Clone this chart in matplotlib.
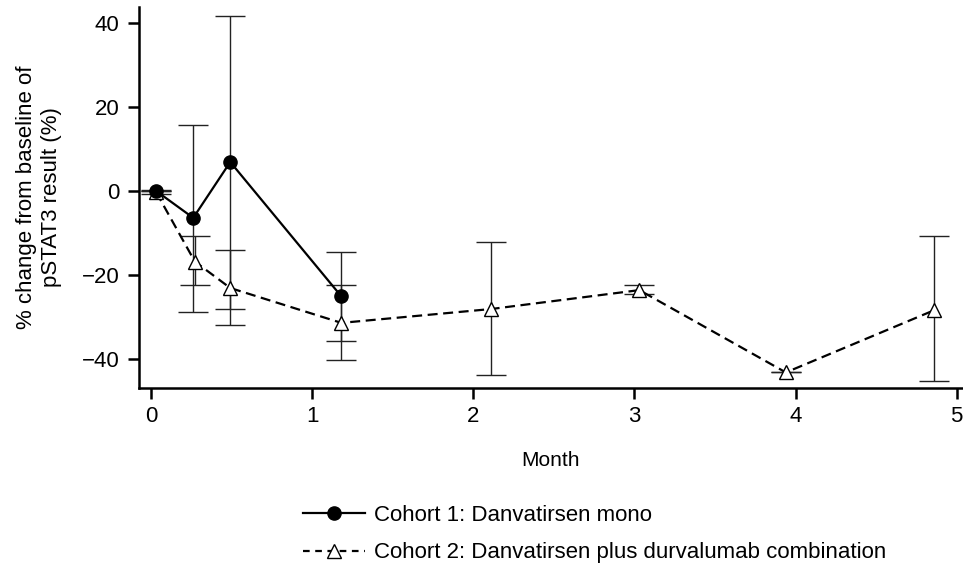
import matplotlib
matplotlib.use("Agg")
from matplotlib import pyplot as plt
from matplotlib.lines import Line2D
import numpy as np

# cohort 1: danvatirsen mono
c1_month = [0.03, 0.26, 0.49, 1.18]
c1_mean = [0.0, -6.4, 6.9, -25.1]
c1_low = [0.0, -28.9, -28.1, -35.8]
c1_high = [0.0, 15.8, 41.7, -14.6]

# cohort 2: danvatirsen + durvalumab
c2_month = [0.03, 0.27, 0.49, 1.18, 2.11, 3.03, 3.94, 4.86]
c2_mean = [-0.3, -16.8, -23.1, -31.4, -28.1, -23.6, -43.2, -28.4]
c2_low = [-0.8, -22.3, -31.8, -40.2, -43.7, -24.5, -43.2, -45.3]
c2_high = [0.3, -10.6, -14.0, -22.3, -12.1, -22.3, -43.2, -10.8]

labels = ["Cohort 1: Danvatirsen mono",
          "Cohort 2: Danvatirsen plus durvalumab combination"]
xticks = [0, 1, 2, 3, 4, 5]
yticks = [-40, -20, 0, 20, 40]


def main():
    plt.rcParams['font.family'] = ['Liberation Sans', 'DejaVu Sans']

    fig = plt.figure(figsize=(9.63, 5.65), dpi=100)
    ax = fig.add_axes([0.1443, 0.3133, 0.8557, 0.6743])

    dash = (0, (4.5, 2.5))

    m2 = np.array(c2_mean)
    yerr2 = [m2 - np.array(c2_low), np.array(c2_high) - m2]
    ax.errorbar(c2_month, c2_mean, yerr=yerr2, fmt='none', ecolor='#222222',
                elinewidth=1, capsize=11, capthick=1, zorder=2)
    ax.plot(c2_month, c2_mean, color='black', lw=1.6, linestyle=dash,
            marker='^', markersize=10, markerfacecolor='white',
            markeredgecolor='black', markeredgewidth=1, zorder=3)

    m1 = np.array(c1_mean)
    yerr1 = [m1 - np.array(c1_low), np.array(c1_high) - m1]
    ax.errorbar(c1_month, c1_mean, yerr=yerr1, fmt='none', ecolor='#222222',
                elinewidth=1, capsize=11, capthick=1, zorder=2)
    ax.plot(c1_month, c1_mean, color='black', lw=1.6, linestyle='-',
            marker='o', markersize=9.5, markerfacecolor='black',
            markeredgecolor='black', zorder=4)

    ax.set_xlim(-0.077, 5.04)
    ax.set_ylim(-46.9, 43.8)
    ax.set_xticks(xticks)
    ax.set_yticks(yticks)
    ax.set_yticklabels([str(t).replace('-', '\u2212') for t in yticks])

    for side in ['top', 'right']:
        ax.spines[side].set_visible(False)
    for side in ['left', 'bottom']:
        ax.spines[side].set_linewidth(1.8)
    ax.tick_params(direction='out', length=8, width=1.8, labelsize=16)
    ax.tick_params(axis='y', pad=6)
    ax.tick_params(axis='x', pad=5)

    ax.set_xlabel("Month", fontsize=15, labelpad=17)
    ax.set_ylabel("% change from baseline of\npSTAT3 result (%)", fontsize=16,
                  labelpad=14, linespacing=1.25)

    handles = [
        Line2D([], [], color='black', lw=1.6, marker='o', markersize=9.5,
               markerfacecolor='black'),
        Line2D([], [], color='black', lw=1.6, linestyle=(0, (3, 2.5)),
               marker='^', markersize=10, markerfacecolor='white',
               markeredgewidth=1),
    ]
    fig.legend(handles, labels, loc='upper left',
               bbox_to_anchor=(0.3146, 0.106), frameon=False,
               fontsize=16, handlelength=2.8, handletextpad=0.4,
               labelspacing=0.73, borderaxespad=0, borderpad=0)

    fig.savefig("out.png", dpi=100)


if __name__ == '__main__':
    main()
